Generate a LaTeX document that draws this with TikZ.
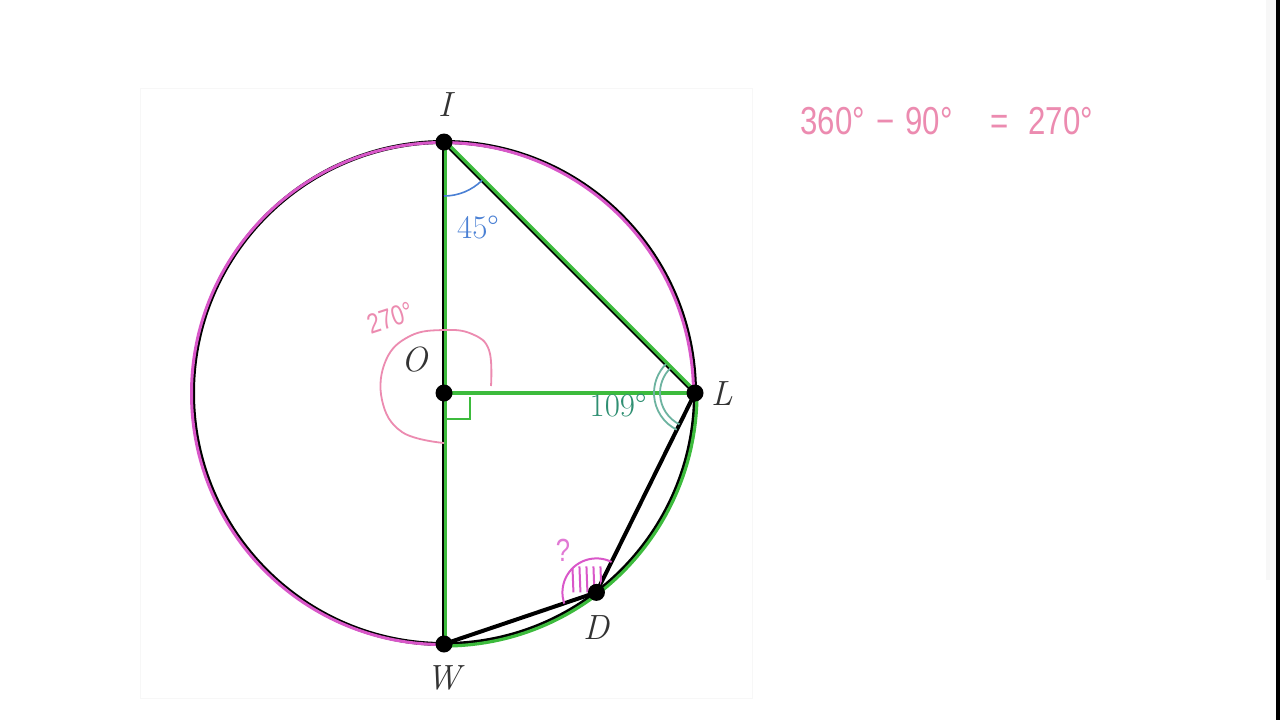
\documentclass[tikz,border=0pt]{standalone}
\usepackage{fontspec}
\newfontfamily\hand[FakeStretch=0.8]{Liberation Sans}
\usetikzlibrary{calc}
\definecolor{circgreen}{HTML}{3DBB3D}
\definecolor{magen}{HTML}{D957C9}
\definecolor{handpink}{HTML}{EC8BB0}
\definecolor{angblue}{HTML}{4A80D4}
\definecolor{angteal}{HTML}{2F8F72}
\definecolor{arcteal}{HTML}{6DB3A0}
\definecolor{labgray}{HTML}{333333}
\begin{document}
\begin{tikzpicture}[x=0.5pt,y=-0.5pt,
  lab/.style={text=labgray,font=\fontsize{17.5}{20}\selectfont\itshape,inner sep=0pt},
  anglab/.style={font=\fontsize{16.5}{18}\selectfont,inner sep=0pt},
  handtxt/.style={text=handpink,font=\hand\fontsize{19.5}{22}\selectfont,inner sep=0pt,anchor=base west},
  blackline/.style={black,line width=2pt,line cap=round,line join=round},
  greenline/.style={circgreen,line width=1.6pt,line cap=round,line join=round},
  dot/.style={black}]
\useasboundingbox (0,0) rectangle (1280,720);
\fill[white] (0,0) rectangle (1280,720);
\draw[black!3,line width=0.5pt] (140,88) rectangle (752,698);
\fill[black!3] (1266,0) rectangle (1276,580);
\fill[black] (1276,0) rectangle (1280,720);

% points
\coordinate (O) at (444,393);
\coordinate (I) at (444,142);
\coordinate (L) at (695,393);
\coordinate (W) at (444,644);
\coordinate (D) at ($(O)+(52.6:251)$);

% base circle and chords
\draw[blackline] (O) circle[radius=251];
\draw[blackline] (I) -- (W);
\draw[blackline] (I) -- (L);
\draw[blackline] (L) -- (D) -- (W);

% magenta major arc overlay (slightly offset, hand traced)
\draw[magen,line width=1.5pt] ($(O)+(-1.5,0.5)+(0:251)$) arc[start angle=0,end angle=-270,radius=251];
% green minor arc overlay
\draw[greenline] ($(O)+(0:253)$) arc[start angle=0,end angle=90,radius=253];
% green lines
\draw[greenline] ($(I)+(1.5,0)$) -- ($(W)+(1.5,0)$);
\draw[greenline] ($(I)+(1,-1)$) -- ($(L)+(1,-1)$);
\draw[greenline] (O) -- (L);
% right angle
\draw[circgreen,line width=1.1pt] ($(O)+(2,26)$) -- ($(O)+(26,26)$) -- ($(O)+(26,4)$);

% 45 degree arc
\draw[angblue,line width=0.8pt] ($(I)+(90:54)$) arc[start angle=90,end angle=45,radius=54];
% 109 degree double arc
\draw[arcteal,line width=0.9pt] ($(L)+(116.4:35)$) arc[start angle=116.4,end angle=225,radius=35];
\draw[arcteal,line width=0.9pt] ($(L)+(116.4:41)$) arc[start angle=116.4,end angle=225,radius=41];

% 270 handwritten arc at O
\draw[handpink,line width=0.9pt] plot[smooth,tension=0.7] coordinates {(491,386) (489,350) (472,334) (444,330) (410,336) (386,360) (382,400) (402,432) (444,443)};

% hatched angle at D
\begin{scope}
\clip (D) -- ($(D)+(160.8:34)$) arc[start angle=160.8,end angle=296.45,radius=34] -- cycle;
\foreach \dx in {-24,-17,-10,-3,4} \draw[magen,line width=1pt] ($(D)+(\dx,-26)$) -- ($(D)+(\dx+1,0)$);
\end{scope}
\draw[magen,line width=1pt] ($(D)+(160.8:34)$) arc[start angle=160.8,end angle=296.45,radius=34];

% dots
\foreach \p in {I,O,L,D,W} \fill[dot] (\p) circle[radius=8.5];

% labels
\node[lab] (lI) at (445,105) {I};
\node[lab] (lO) at (415,360) {O};
\node[lab] (lL) at (722,394) {L};
\node[lab] (lD) at (596,628) {D};
\node[lab] (lW) at (444,678) {W};
\node[anglab,text=angblue] (a45) at (478,227) {45°};
\node[anglab,text=angteal] (a109) at (618,405) {109°};

% handwritten annotations
\node[text=handpink,font=\hand\fontsize{14}{16}\selectfont,rotate=18,inner sep=0pt] (t270) at (390,318) {270°};
\node[text=magen!80,font=\hand\fontsize{16}{18}\selectfont,inner sep=0pt] (q) at (563,550) {?};
\node[handtxt] (e1) at (800,134) {360°};
\node[handtxt] (e2) at (876,134) {−};
\node[handtxt] (e3) at (905,134) {90°};
\node[handtxt] (e4) at (990,134) {=};
\node[handtxt] (e5) at (1028,134) {270°};
\end{tikzpicture}
\end{document}
